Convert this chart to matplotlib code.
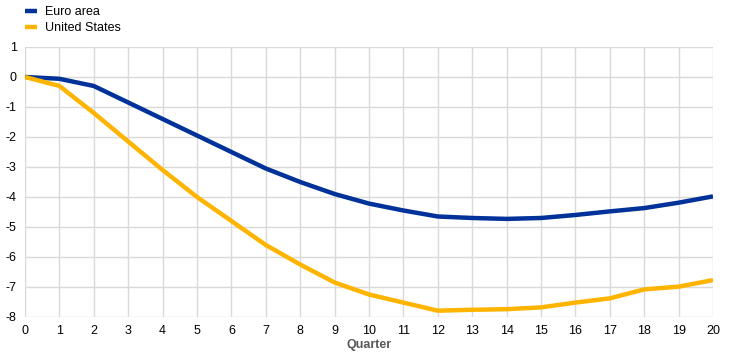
import matplotlib.pyplot as plt
import numpy as np

quarters = list(range(21))
euro_area = [0, -0.06, -0.3, -0.85, -1.4, -1.95, -2.5, -3.05, -3.5, -3.9, -4.22,
             -4.45, -4.65, -4.7, -4.73, -4.7, -4.6, -4.48, -4.37, -4.19, -3.98]
united_states = [0, -0.3, -1.2, -2.15, -3.1, -4.0, -4.8, -5.6, -6.25, -6.85, -7.25,
                 -7.52, -7.79, -7.76, -7.74, -7.68, -7.52, -7.38, -7.08, -6.99, -6.77]

plt.rcParams['font.family'] = ['Liberation Sans', 'DejaVu Sans']
plt.rcParams['axes.unicode_minus'] = False

fig = plt.figure(figsize=(7.44, 3.56), dpi=100)
ax = fig.add_axes([0.0336, 0.1096, 0.9247, 0.7584])

ax.plot(quarters, euro_area, color='#003299', lw=3.2, label='Euro area', solid_capstyle='butt')
ax.plot(quarters, united_states, color='#FFB400', lw=3.2, label='United States', solid_capstyle='butt')

ax.set_xlim(0, 20)
ax.set_ylim(-8, 1)
ax.set_xticks(quarters)
ax.set_yticks(range(-8, 2))
ax.grid(True, color='#d9d9d9', lw=1)
ax.set_axisbelow(True)
for s in ax.spines.values():
    s.set_visible(False)
ax.tick_params(length=0, labelsize=9, pad=6)
ax.set_xlabel('Quarter', fontsize=9, fontweight='bold', color='#595959', labelpad=1)

fig.legend(loc='upper left', bbox_to_anchor=(0.018, 1.015), frameon=False, fontsize=9,
           handlelength=1.0, handletextpad=0.6, labelspacing=0.35)

fig.savefig('out.png', dpi=100)
